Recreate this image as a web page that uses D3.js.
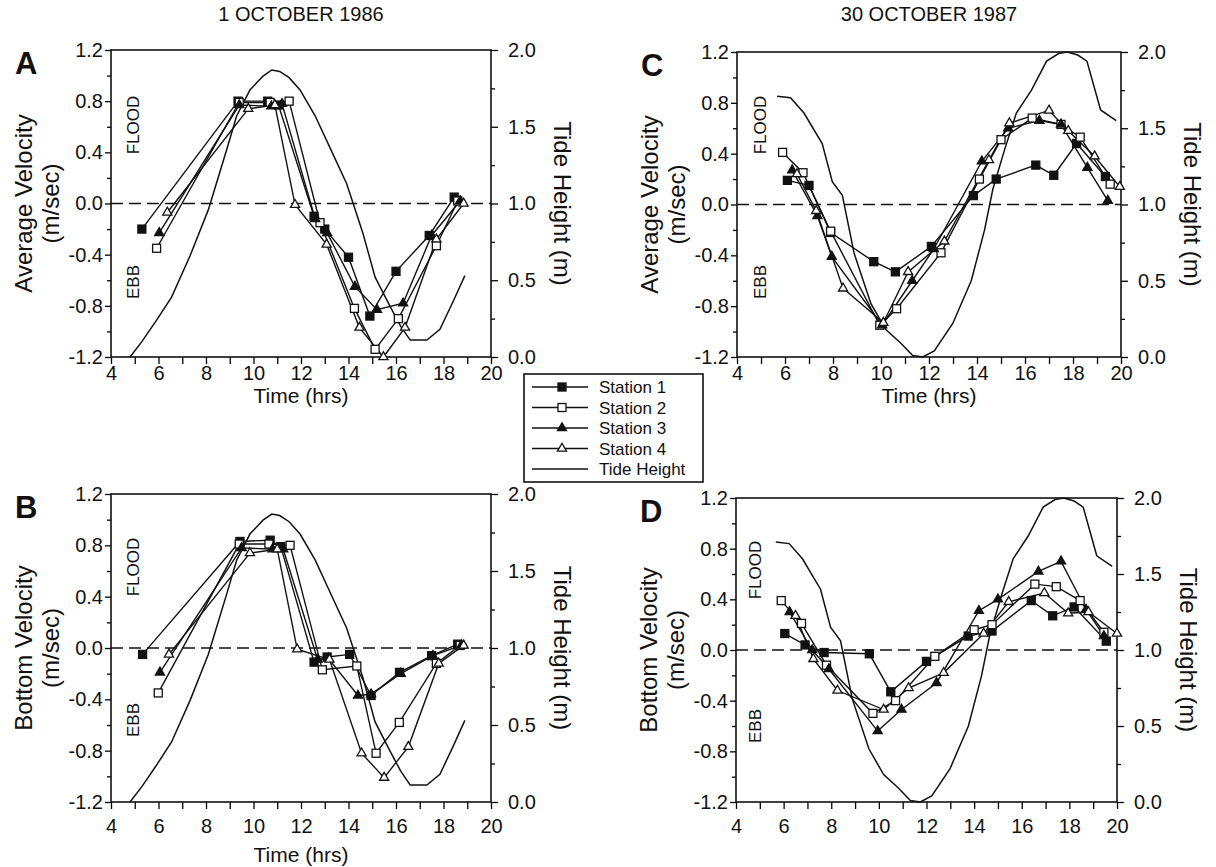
<!DOCTYPE html>
<html lang="en">
<head>
<meta charset="UTF-8">
<title>Tidal velocities, 1986 and 1987</title>
<script src="https://d3js.org/d3.v7.min.js"></script>
<style>
    body { margin: 0; background: #fff; }
    text { font-family: "Liberation Sans", Arial, Helvetica, sans-serif; fill: #111; }
</style>
</head>
<body>
<svg id="chart" width="1216" height="867"></svg>
<script>
    // ---------------- data: [time (hrs), value] ----------------
    // tide height (m), same curve in both panels of a day
    const tide1986 = [[4.8,0.0],[5.3,0.1],[5.92,0.24],[6.55,0.39],[7.33,0.66],[8.1,0.96],[8.87,1.35],[9.29,1.57],
        [9.85,1.74],[10.4,1.83],[10.77,1.87],[11.1,1.86],[11.5,1.82],[11.96,1.74],[12.6,1.57],[13.14,1.39],
        [13.92,1.13],[14.6,0.81],[15.12,0.52],[15.75,0.33],[16.2,0.2],[16.6,0.11],[17.3,0.11],[17.85,0.18],
        [18.4,0.36],[18.9,0.53]];
    const tide1987 = [[5.67,1.71],[6.23,1.70],[6.79,1.60],[7.55,1.40],[7.97,1.15],[8.39,1.06],[8.88,0.68],
        [9.58,0.35],[10.2,0.18],[10.83,0.09],[11.32,0.01],[11.74,0.0],[12.22,0.04],[12.99,0.22],[13.76,0.50],
        [14.31,0.83],[14.66,1.10],[15.15,1.36],[15.64,1.60],[16.27,1.75],[16.9,1.94],[17.4,1.99],[17.76,2.0],
        [18.2,1.98],[18.58,1.94],[19.15,1.62],[19.8,1.55]];

    // A: average velocity, 1 Oct 1986 (m/sec)
    const avg1986S1 = [[5.3,-0.20],[9.35,0.80],[10.6,0.80],[11.05,0.77],[12.55,-0.10],[13.0,-0.20],[14.0,-0.42],
        [14.9,-0.88],[16.0,-0.53],[17.4,-0.25],[18.45,0.05]];
    const avg1986S2 = [[5.92,-0.35],[9.4,0.79],[10.7,0.79],[11.5,0.80],[12.8,-0.15],[14.25,-0.82],[15.12,-1.14],
        [16.1,-0.90],[17.7,-0.33],[18.6,0.02]];
    const avg1986S3 = [[6.03,-0.23],[9.4,0.77],[10.75,0.76],[11.2,0.78],[12.6,-0.12],[13.1,-0.23],[14.27,-0.65],
        [15.2,-0.83],[16.3,-0.78],[17.5,-0.25],[18.7,0.02]];
    const avg1986S4 = [[6.37,-0.07],[9.78,0.74],[10.9,0.77],[11.75,-0.01],[13.08,-0.32],[14.46,-0.97],
        [15.47,-1.20],[16.38,-0.97],[17.7,-0.28],[18.85,0.0]];

    // B: bottom velocity, 1 Oct 1986
    const bot1986S1 = [[5.33,-0.05],[9.43,0.83],[10.7,0.84],[11.15,0.79],[12.55,-0.11],[13.1,-0.07],[14.05,-0.05],
        [14.95,-0.37],[16.15,-0.19],[17.5,-0.06],[18.6,0.03]];
    const bot1986S2 = [[5.99,-0.35],[9.4,0.81],[10.65,0.81],[11.54,0.80],[12.9,-0.17],[14.35,-0.14],[15.16,-0.82],
        [16.14,-0.58],[17.7,-0.12],[18.7,0.02]];
    const bot1986S3 = [[6.06,-0.19],[9.5,0.78],[10.8,0.77],[11.25,0.77],[12.7,-0.09],[13.15,-0.08],[14.4,-0.37],
        [14.95,-0.36],[16.2,-0.20],[17.55,-0.06],[18.75,0.02]];
    const bot1986S4 = [[6.44,-0.05],[9.85,0.74],[11.0,0.77],[11.84,-0.01],[13.2,-0.09],[14.55,-0.82],[15.5,-1.01],
        [16.52,-0.77],[17.8,-0.12],[18.85,0.02]];

    // C: average velocity, 30 Oct 1987
    const avg1987S1 = [[6.1,0.19],[7.0,0.15],[7.9,-0.22],[9.7,-0.45],[10.6,-0.53],[12.1,-0.33],[13.85,0.07],
        [14.8,0.20],[16.45,0.31],[17.2,0.23],[18.15,0.48],[19.35,0.22]];
    const avg1987S2 = [[5.9,0.41],[6.75,0.25],[7.9,-0.21],[9.95,-0.95],[10.65,-0.82],[12.5,-0.38],[14.1,0.20],
        [15.0,0.51],[16.3,0.68],[17.5,0.63],[18.3,0.53],[19.55,0.16]];
    const avg1987S3 = [[6.3,0.27],[7.35,-0.09],[7.95,-0.41],[10.05,-0.95],[11.3,-0.60],[12.2,-0.35],[14.2,0.34],
        [15.3,0.60],[16.6,0.66],[17.5,0.63],[18.6,0.29],[19.45,0.03]];
    const avg1987S4 = [[6.5,0.24],[7.3,-0.05],[8.42,-0.66],[10.1,-0.93],[11.13,-0.53],[12.64,-0.29],[14.5,0.35],
        [15.35,0.64],[17.0,0.74],[17.8,0.58],[18.9,0.38],[19.95,0.14]];

    // D: bottom velocity, 30 Oct 1987
    const bot1987S1 = [[6.05,0.13],[6.9,0.04],[7.7,-0.02],[9.6,-0.03],[10.5,-0.33],[12.0,-0.09],[13.75,0.11],
        [14.75,0.15],[16.4,0.39],[17.3,0.27],[18.2,0.34],[19.55,0.07]];
    const bot1987S2 = [[5.9,0.39],[6.75,0.21],[7.8,-0.12],[9.75,-0.50],[10.7,-0.40],[12.35,-0.05],[14.0,0.16],
        [14.75,0.20],[16.55,0.52],[17.45,0.50],[18.45,0.39],[19.45,0.14]];
    const bot1987S3 = [[6.25,0.30],[7.2,0.0],[7.9,-0.15],[9.95,-0.64],[10.95,-0.47],[12.42,-0.26],[14.2,0.31],
        [15.0,0.40],[16.7,0.62],[17.65,0.70],[18.7,0.32],[19.45,0.11]];
    const bot1987S4 = [[6.5,0.27],[7.25,-0.07],[8.26,-0.32],[10.2,-0.47],[11.25,-0.30],[12.72,-0.18],[14.4,0.13],
        [15.45,0.38],[16.95,0.45],[17.95,0.29],[18.8,0.30],[20.0,0.13]];

    const stationNames = ["Station 1", "Station 2", "Station 3", "Station 4", "Tide Height"];
    const dayTitles = ["1 OCTOBER 1986", "30 OCTOBER 1987"];

    // x ticks every hour, velocity ticks every 0.2, tide ticks every 0.25
    const timeTicks = d3.range(4, 21, 1);
    const velTicks = d3.range(-12, 13, 2).map(k => k / 10);
    const tideTicks = d3.range(0, 9, 1).map(k => k / 4);

    // marker styles for the four stations
    const markers = [
        {shape: "square", fill: "#111"},
        {shape: "square", fill: "#fff"},
        {shape: "triangle", fill: "#111"},
        {shape: "triangle", fill: "#fff"}
    ];

    const panels = [
        {letter: "A", left: 111, right: 491, top: 50, bottom: 357, tide: tide1986,
            stations: [avg1986S1, avg1986S2, avg1986S3, avg1986S4], yTitle: "Average Velocity",
            xTitleDy: 46, tickDy: 23, flood: 125, ebb: 282, labelX: 133},
        {letter: "B", left: 111, right: 491, top: 494, bottom: 802, tide: tide1986,
            stations: [bot1986S1, bot1986S2, bot1986S3, bot1986S4], yTitle: "Bottom Velocity",
            xTitleDy: 60, tickDy: 31, flood: 567, ebb: 720, labelX: 133},
        {letter: "C", left: 737, right: 1121, top: 52, bottom: 357, tide: tide1987,
            stations: [avg1987S1, avg1987S2, avg1987S3, avg1987S4], yTitle: "Average Velocity",
            xTitleDy: 46, tickDy: 23, flood: 125, ebb: 282, labelX: 760},
        {letter: "D", left: 736, right: 1117, top: 498, bottom: 802, tide: tide1987,
            stations: [bot1987S1, bot1987S2, bot1987S3, bot1987S4], yTitle: "Bottom Velocity",
            xTitleDy: null, tickDy: 31, flood: 570, ebb: 726, labelX: 755}
    ];

    const svg = d3.select("#chart");

    function drawMarker(g, m, cx, cy) {
        if (m.shape === "square") {
            g.append("rect")
                .attr("x", cx - 4).attr("y", cy - 4)
                .attr("width", 8).attr("height", 8)
                .attr("fill", m.fill).attr("stroke", "#111").attr("stroke-width", 1.3);
        } else {
            g.append("path")
                .attr("d", d3.symbol(d3.symbolTriangle, 36)())
                .attr("transform", `translate(${cx},${cy})`)
                .attr("fill", m.fill).attr("stroke", "#111").attr("stroke-width", 1.3);
        }
    }

    panels.forEach(p => {
        const x = d3.scaleLinear().domain([4, 20]).range([p.left, p.right]);
        const y = d3.scaleLinear().domain([-1.2, 1.2]).range([p.bottom, p.top]);
        const yTide = d3.scaleLinear().domain([0, 2]).range([p.bottom, p.top]);
        const g = svg.append("g");

        // bottom axis
        const xAxis = g.append("g")
            .attr("transform", `translate(0,${p.bottom})`)
            .call(d3.axisBottom(x).tickValues(timeTicks).tickSizeOuter(0)
                .tickFormat(d => d % 2 === 0 ? d : ""));
        xAxis.selectAll("line").attr("y2", 7).attr("stroke-width", 1.3);
        xAxis.selectAll("text").attr("y", p.tickDy).attr("dy", null).style("font-size", "20px");

        // left axis
        const yAxis = g.append("g")
            .attr("transform", `translate(${p.left},0)`)
            .call(d3.axisLeft(y).tickValues(velTicks).tickSizeOuter(0)
                .tickFormat(d => Math.round(d * 10) % 4 === 0 ? d.toFixed(1).replace("-0.0", "0.0") : ""));
        yAxis.selectAll("line")
            .attr("x2", d => Math.round(d * 10) % 4 === 0 ? -6 : -4)
            .attr("stroke-width", 1.3);
        yAxis.selectAll("text").attr("x", -8).style("font-size", "20px");

        // right axis
        const rAxis = g.append("g")
            .attr("transform", `translate(${p.right},0)`)
            .call(d3.axisRight(yTide).tickValues(tideTicks).tickSizeOuter(0)
                .tickFormat(d => (d * 2) % 1 === 0 ? d.toFixed(1) : ""));
        rAxis.selectAll("line")
            .attr("x2", d => (d * 2) % 1 === 0 ? 7 : 4)
            .attr("stroke-width", 1.3);
        rAxis.selectAll("text").attr("x", 17).style("font-size", "20px");

        g.selectAll(".domain").remove();

        // frame
        g.append("rect")
            .attr("x", p.left).attr("y", p.top)
            .attr("width", p.right - p.left).attr("height", p.bottom - p.top)
            .attr("fill", "none").attr("stroke", "#111").attr("stroke-width", 1.6);

        // tide curve
        g.append("path")
            .datum(p.tide)
            .attr("fill", "none").attr("stroke", "#111").attr("stroke-width", 1.5)
            .attr("d", d3.line().x(d => x(d[0])).y(d => yTide(d[1])));

        // zero line
        g.append("line")
            .attr("x1", p.left).attr("x2", p.right)
            .attr("y1", y(0)).attr("y2", y(0))
            .attr("stroke", "#111").attr("stroke-width", 1.4)
            .attr("stroke-dasharray", "12,6");

        // station lines then markers
        p.stations.forEach(s => {
            g.append("path")
                .datum(s)
                .attr("fill", "none").attr("stroke", "#111").attr("stroke-width", 1.4)
                .attr("d", d3.line().x(d => x(d[0])).y(d => y(d[1])));
        });
        p.stations.forEach((s, i) => {
            s.forEach(d => drawMarker(g, markers[i], x(d[0]), y(d[1])));
        });

        // texts
        const midY = (p.top + p.bottom) / 2;
        g.append("text")
            .attr("x", p.left - 96).attr("y", p.top + 24)
            .style("font-size", "31px").style("font-weight", "bold")
            .text(p.letter);

        g.append("text")
            .attr("transform", `translate(${p.left - 88},${midY}) rotate(-90)`)
            .attr("text-anchor", "middle").attr("dominant-baseline", "central")
            .style("font-size", "24px")
            .text(p.yTitle);
        g.append("text")
            .attr("transform", `translate(${p.left - 61},${midY}) rotate(-90)`)
            .attr("text-anchor", "middle").attr("dominant-baseline", "central")
            .style("font-size", "24px")
            .text("(m/sec)");

        g.append("text")
            .attr("transform", `translate(${p.right + 71},${midY}) rotate(90)`)
            .attr("text-anchor", "middle").attr("dominant-baseline", "central")
            .style("font-size", "24px")
            .text("Tide Height (m)");

        if (p.xTitleDy !== null) {
            g.append("text")
                .attr("x", (p.left + p.right) / 2).attr("y", p.bottom + p.xTitleDy)
                .attr("text-anchor", "middle")
                .style("font-size", "21px")
                .text("Time (hrs)");
        }

        g.append("text")
            .attr("transform", `translate(${p.labelX},${p.flood}) rotate(-90)`)
            .attr("text-anchor", "middle").attr("dominant-baseline", "central")
            .style("font-size", "17px")
            .text("FLOOD");
        g.append("text")
            .attr("transform", `translate(${p.labelX},${p.ebb}) rotate(-90)`)
            .attr("text-anchor", "middle").attr("dominant-baseline", "central")
            .style("font-size", "17px")
            .text("EBB");
    });

    // column titles
    svg.append("text")
        .attr("x", (panels[0].left + panels[0].right) / 2).attr("y", 21)
        .attr("text-anchor", "middle").style("font-size", "20px")
        .text(dayTitles[0]);
    svg.append("text")
        .attr("x", (panels[2].left + panels[2].right) / 2).attr("y", 21)
        .attr("text-anchor", "middle").style("font-size", "20px")
        .text(dayTitles[1]);

    // legend
    const legend = svg.append("g");
    legend.append("rect")
        .attr("x", 524).attr("y", 374).attr("width", 179).attr("height", 108)
        .attr("fill", "#fff").attr("stroke", "#111").attr("stroke-width", 1.6);
    stationNames.forEach((name, i) => {
        const ry = 387 + i * 20.5;
        legend.append("line")
            .attr("x1", 532).attr("x2", 588).attr("y1", ry).attr("y2", ry)
            .attr("stroke", "#111").attr("stroke-width", 1.5);
        if (i < 4) drawMarker(legend, markers[i], 562, ry);
        legend.append("text")
            .attr("x", 599).attr("y", ry + 6)
            .style("font-size", "17px")
            .text(name);
    });
</script>
</body>
</html>
